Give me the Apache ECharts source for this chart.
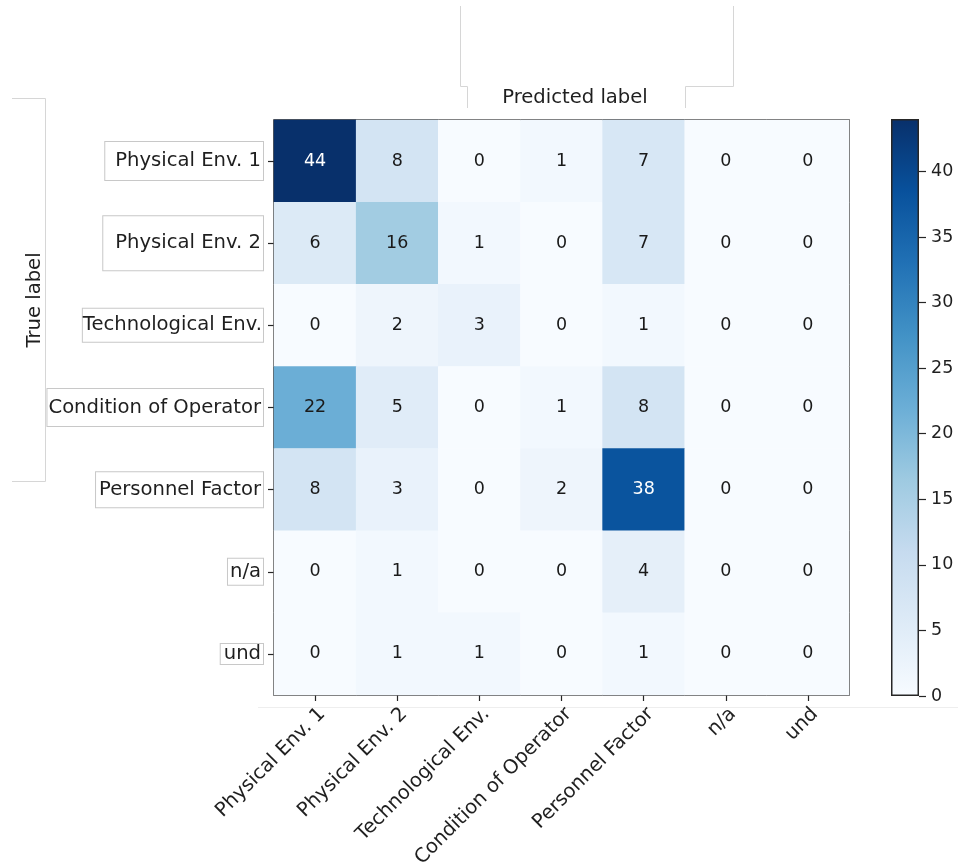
<!DOCTYPE html>
<html>
<head>
<meta charset="utf-8">
<title>Confusion matrix</title>
<script src="https://cdn.jsdelivr.net/npm/echarts@6/dist/echarts.min.js"></script>
<style>
  html, body { margin: 0; padding: 0; background: #ffffff; }
  #chart { width: 961px; height: 866px; }
</style>
</head>
<body>
<div id="chart"></div>
<script>
// Class names, shared by both axes
const classes = ['Physical Env. 1', 'Physical Env. 2', 'Technological Env.', 'Condition of Operator', 'Personnel Factor', 'n/a', 'und'];

// Counts: one row per true class, one column per predicted class
const rowPhysical1   = [44, 8, 0, 1, 7, 0, 0];
const rowPhysical2   = [6, 16, 1, 0, 7, 0, 0];
const rowTechnical   = [0, 2, 3, 0, 1, 0, 0];
const rowCondition   = [22, 5, 0, 1, 8, 0, 0];
const rowPersonnel   = [8, 3, 0, 2, 38, 0, 0];
const rowNA          = [0, 1, 0, 0, 4, 0, 0];
const rowUnd         = [0, 1, 1, 0, 1, 0, 0];
const matrixRows = [rowPhysical1, rowPhysical2, rowTechnical, rowCondition, rowPersonnel, rowNA, rowUnd];

// Colour bar range and tick labels
const colorMin = 0;
const colorMax = 44;
const colorTicks = [0, 5, 10, 15, 20, 25, 30, 35, 40];

// "Blues" colour ramp, low to high
const bluesRamp = ['#f7fbff', '#deebf7', '#c6dbef', '#9ecae1', '#6baed6', '#4292c6', '#2171b5', '#08519c', '#08306b'];

const textColor = '#1f1f1f';
const frameColor = '#262626';
const fontFamily = 'DejaVu Sans';
const labelSize = 19.6;
const numberSize = 17.5;

// Heatmap cells: [column, row, value]
const cells = [];
matrixRows.forEach(function (row, r) {
  row.forEach(function (v, c) {
    cells.push({
      value: [c, r, v],
      label: { color: v > colorMax / 2 ? '#ffffff' : '#1a1a1a' }
    });
  });
});

// Boxed tick labels on the true-label axis (padding: top, right, bottom, left)
const yLabelPads = [
  [9, 2, 9, 10],
  [17, 2, 17, 12],
  [6, 1, 7, 0],
  [8, 2, 9, 1],
  [7, 2, 8, 3],
  [3, 2, 3, 2],
  [0, 2, 0, 3]
];
const yAxisData = classes.map(function (name, i) {
  return {
    value: name,
    textStyle: {
      padding: yLabelPads[i],
      borderColor: '#c8c8c8',
      borderWidth: 1,
      backgroundColor: '#ffffff'
    }
  };
});

// Colour bar gradient, top (high) to bottom (low)
const barStops = bluesRamp.slice().reverse().map(function (c, i, arr) {
  return { offset: i / (arr.length - 1), color: c };
});

const faint = { stroke: '#d6d6d6', lineWidth: 1 };

const chart = echarts.init(document.getElementById('chart'), null, { renderer: 'canvas' });

chart.setOption({
  backgroundColor: '#ffffff',
  animation: false,
  textStyle: { fontFamily: fontFamily },
  graphic: [
    { type: 'polyline', silent: true, shape: { points: [[460.5, 6], [460.5, 86.5], [467.5, 86.5], [467.5, 108]] }, style: faint },
    { type: 'polyline', silent: true, shape: { points: [[733.5, 6], [733.5, 86.5], [685.5, 86.5], [685.5, 108]] }, style: faint },
    { type: 'polyline', silent: true, shape: { points: [[12, 98.5], [45.5, 98.5], [45.5, 481.5], [12, 481.5]] }, style: faint },
    { type: 'line', silent: true, shape: { x1: 258, y1: 707.5, x2: 958, y2: 707.5 }, style: { stroke: '#eeeeee', lineWidth: 1 } },
    {
      type: 'text', silent: true, x: 575, y: 98,
      style: { text: 'Predicted label', font: labelSize + 'px "' + fontFamily + '"', fill: textColor, align: 'center', verticalAlign: 'middle' }
    },
    {
      type: 'text', silent: true, x: 35, y: 300, rotation: Math.PI / 2,
      style: { text: 'True label', font: labelSize + 'px "' + fontFamily + '"', fill: textColor, align: 'center', verticalAlign: 'middle' }
    }
  ],
  grid: [
    { left: 274, top: 120, width: 575, height: 575, outerBoundsMode: 'none', containLabel: false, show: true, borderColor: frameColor, borderWidth: 1.5, backgroundColor: 'transparent' },
    { left: 891, top: 119, width: 28, height: 577, outerBoundsMode: 'none', containLabel: false }
  ],
  xAxis: [
    {
      type: 'category',
      gridIndex: 0,
      data: classes,
      position: 'bottom',
      splitArea: { show: false },
      axisLine: { show: false },
      axisTick: { show: true, alignWithLabel: true, length: 6, lineStyle: { color: frameColor, width: 1.2 } },
      axisLabel: {
        rotate: 45, margin: 9, verticalAlign: 'top', align: 'right',
        fontSize: labelSize, color: textColor, fontFamily: fontFamily, interval: 0
      }
    },
    {
      type: 'category',
      gridIndex: 1,
      data: [''],
      show: false
    }
  ],
  yAxis: [
    {
      type: 'category',
      gridIndex: 0,
      data: yAxisData,
      inverse: true,
      splitArea: { show: false },
      axisLine: { show: false },
      axisTick: { show: true, alignWithLabel: true, length: 6, lineStyle: { color: frameColor, width: 1.2 } },
      axisLabel: { margin: 11, fontSize: labelSize, color: textColor, fontFamily: fontFamily, interval: 0 }
    },
    {
      type: 'value',
      gridIndex: 1,
      position: 'right',
      min: colorMin,
      max: colorMax,
      splitLine: { show: false },
      axisLine: { show: false },
      axisTick: { show: true, length: 7, customValues: colorTicks, lineStyle: { color: frameColor, width: 1.2 } },
      axisLabel: { margin: 12, fontSize: numberSize, color: textColor, fontFamily: fontFamily, customValues: colorTicks }
    }
  ],
  visualMap: {
    show: false,
    type: 'continuous',
    seriesIndex: 0,
    min: colorMin,
    max: colorMax,
    inRange: { color: bluesRamp }
  },
  series: [
    {
      type: 'heatmap',
      xAxisIndex: 0,
      yAxisIndex: 0,
      data: cells,
      itemStyle: { borderWidth: 0 },
      label: { show: true, fontSize: numberSize, fontFamily: fontFamily },
      emphasis: { disabled: true }
    },
    {
      type: 'bar',
      xAxisIndex: 1,
      yAxisIndex: 1,
      data: [colorMax],
      barWidth: '100%',
      silent: true,
      itemStyle: {
        color: new echarts.graphic.LinearGradient(0, 0, 0, 1, barStops),
        borderColor: frameColor,
        borderWidth: 1.5
      }
    }
  ]
});
</script>
</body>
</html>
